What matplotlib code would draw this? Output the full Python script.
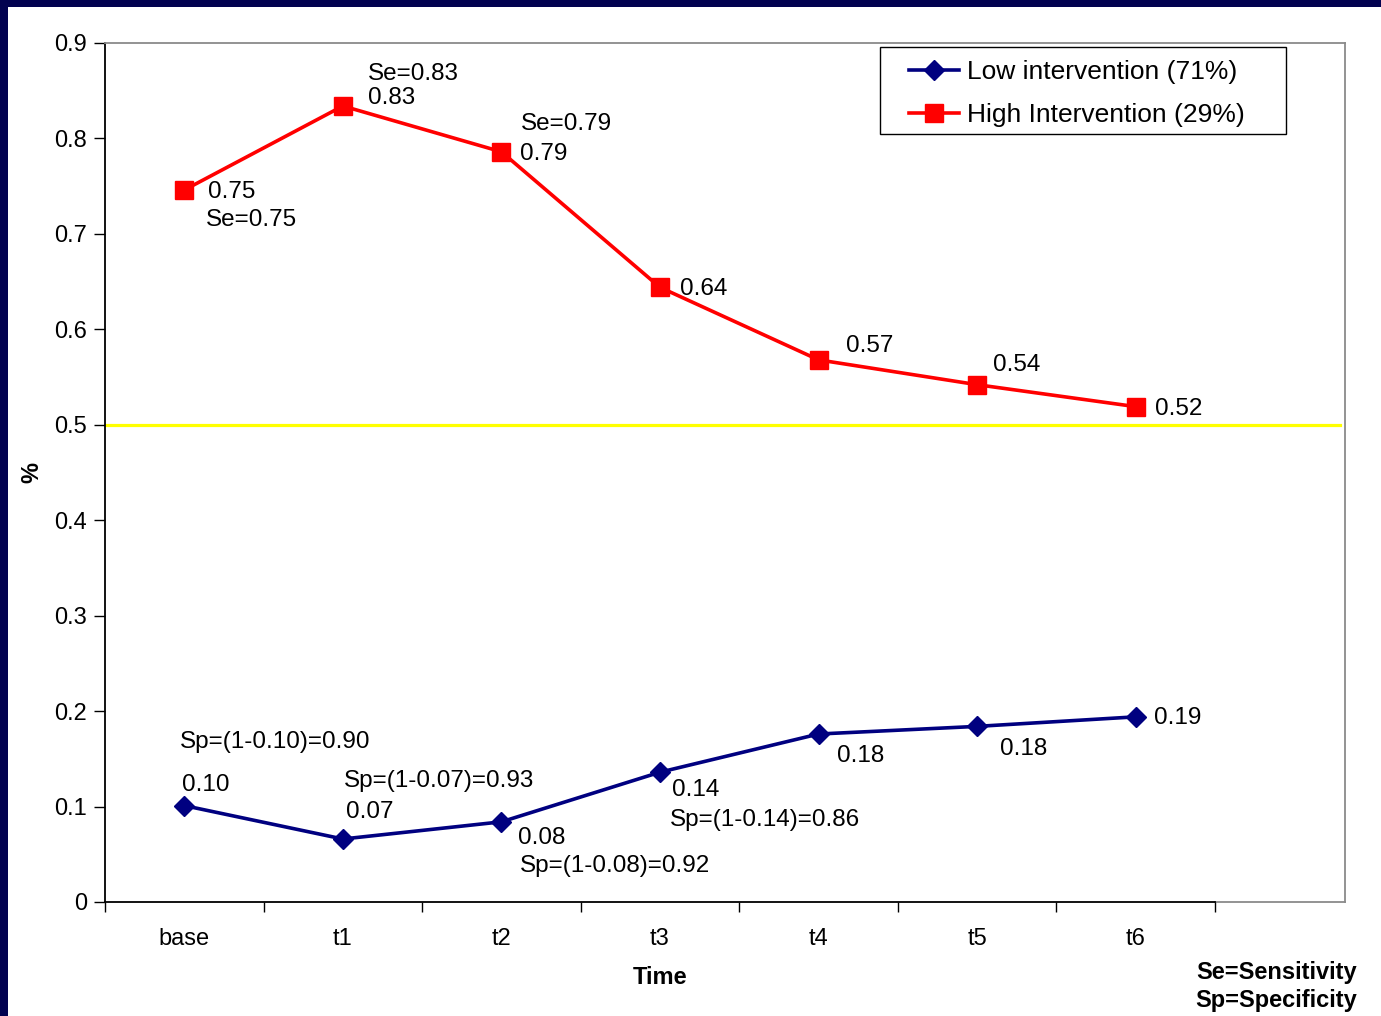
import matplotlib
matplotlib.use("Agg")
import matplotlib.pyplot as plt
from matplotlib.patches import Rectangle
import numpy as np

plt.rcParams['font.family'] = ['Liberation Sans', 'DejaVu Sans']

# Time points and proportions per group
time_points = ["base", "t1", "t2", "t3", "t4", "t5", "t6"]
low_values = [0.101, 0.066, 0.084, 0.136, 0.176, 0.184, 0.194]
high_values = [0.746, 0.834, 0.786, 0.644, 0.568, 0.542, 0.519]
low_name = "Low intervention (71%)"
high_name = "High Intervention (29%)"
threshold = 0.5
y_ticks = [0, 0.1, 0.2, 0.3, 0.4, 0.5, 0.6, 0.7, 0.8, 0.9]

# which points carry the Se / Sp annotation
se_points = [0, 1, 2]
sp_points = [0, 1, 2, 3]

W, H = 1381, 1016
fig = plt.figure(figsize=(W / 100, H / 100), dpi=100)
fig.patch.set_facecolor('#020250')
bg = Rectangle((8 / W, 0), 1, 1 - 7 / H, transform=fig.transFigure,
               facecolor='white', edgecolor='none', zorder=-10)
fig.add_artist(bg)

ax = fig.add_axes([105 / W, 114 / H, 1240 / W, 859 / H])
ax.set_facecolor('white')
n = len(time_points)
x = np.arange(n)
xmax = -0.5 + 1240 / 158.57
ax.set_xlim(-0.5, xmax)
ax.set_ylim(0, 0.9)

red = '#ff0000'
navy = '#000080'

ax.plot([-0.5, xmax - 0.03], [threshold, threshold], color='#ffff00', lw=2.3, zorder=2)
ax.plot(x, low_values, color=navy, lw=2.6, marker='D', markersize=10.5,
        label=low_name, zorder=3)
ax.plot(x, high_values, color=red, lw=2.6, marker='s', markersize=13,
        label=high_name, zorder=3)

# spines
for s in ['top', 'right']:
    ax.spines[s].set_color('#8a8a8a')
    ax.spines[s].set_linewidth(1.3)
ax.spines['left'].set_color('black')
ax.spines['left'].set_linewidth(1.3)
ax.spines['bottom'].set_color('black')
ax.spines['bottom'].set_linewidth(1.3)
ax.spines['bottom'].set_bounds(-0.5, n - 0.5)
ax.plot([n - 0.5, xmax], [0, 0], color='#8a8a8a', lw=1.3, clip_on=False, zorder=1)

# ticks
ax.set_yticks(y_ticks)
ax.set_yticklabels([f"{v:g}" for v in y_ticks])
ax.tick_params(axis='y', direction='out', length=8, width=1, labelsize=17, pad=5, color='black')
ax.set_xticks(np.arange(-0.5, n, 1))
ax.set_xticklabels([])
ax.tick_params(axis='x', which='major', direction='out', length=7, width=1, color='black')
ax.set_xticks(x, minor=True)
ax.set_xticklabels(time_points, minor=True)
ax.tick_params(axis='x', which='minor', length=0, labelsize=17, pad=19)

# axis titles: "Time" centred under the category span
ax.text((n - 1) / 2, -76 / 859 * 0.9, "Time", ha='center', va='center',
        fontsize=17, fontweight='bold', transform=ax.transData, clip_on=False)
ax.set_ylabel("%", fontsize=17, fontweight='bold', labelpad=8)

# value labels (pixel offsets from each marker)
high_off = [(24, -2), (25, 8), (19, -2), (20, -2), (27, 14), (16, 20), (19, -2)]
se_off = {0: (22, -30), 1: (25, 32), 2: (19, 28)}
low_off = [(-2, 21), (3, 27), (17, -16), (12, -18), (18, -22), (23, -23), (18, -1)]
sp_off = {0: (-4, 65), 1: (1, 54), 2: (18, -40), 3: (10, -52)}

kw = dict(textcoords='offset pixels', ha='left', va='center', fontsize=17.5, color='black')
for i, v in enumerate(high_values):
    ax.annotate(f"{v:.2f}", (x[i], v), xytext=high_off[i], **kw)
for i in se_points:
    v = high_values[i]
    ax.annotate(f"Se={v:.2f}", (x[i], v), xytext=se_off[i], **kw)
for i, v in enumerate(low_values):
    ax.annotate(f"{v:.2f}", (x[i], v), xytext=low_off[i], **kw)
for i in sp_points:
    v = round(low_values[i], 2)
    ax.annotate(f"Sp=(1-{v:.2f})={1 - v:.2f}", (x[i], v), xytext=sp_off[i], **kw)

# legend entries with a separately drawn square frame
leg = ax.legend(loc='upper left', bbox_to_anchor=(909 / W, 1 - 60 / H),
                bbox_transform=fig.transFigure, fontsize=19, frameon=False,
                handlelength=1.9, handletextpad=0.3, borderpad=0,
                labelspacing=0.72, borderaxespad=0)
fig.add_artist(Rectangle((880 / W, 1 - 134 / H), 406 / W, 87 / H,
                         transform=fig.transFigure, facecolor='none',
                         edgecolor='black', lw=1.0, zorder=5))

fig.text(1357 / W, 1 - 972 / H, "Se=Sensitivity", ha='right', va='center',
         fontsize=17, fontweight='bold')
fig.text(1357 / W, 1 - 1000 / H, "Sp=Specificity", ha='right', va='center',
         fontsize=17, fontweight='bold')

fig.savefig("out.png", dpi=100, facecolor=fig.get_facecolor())
